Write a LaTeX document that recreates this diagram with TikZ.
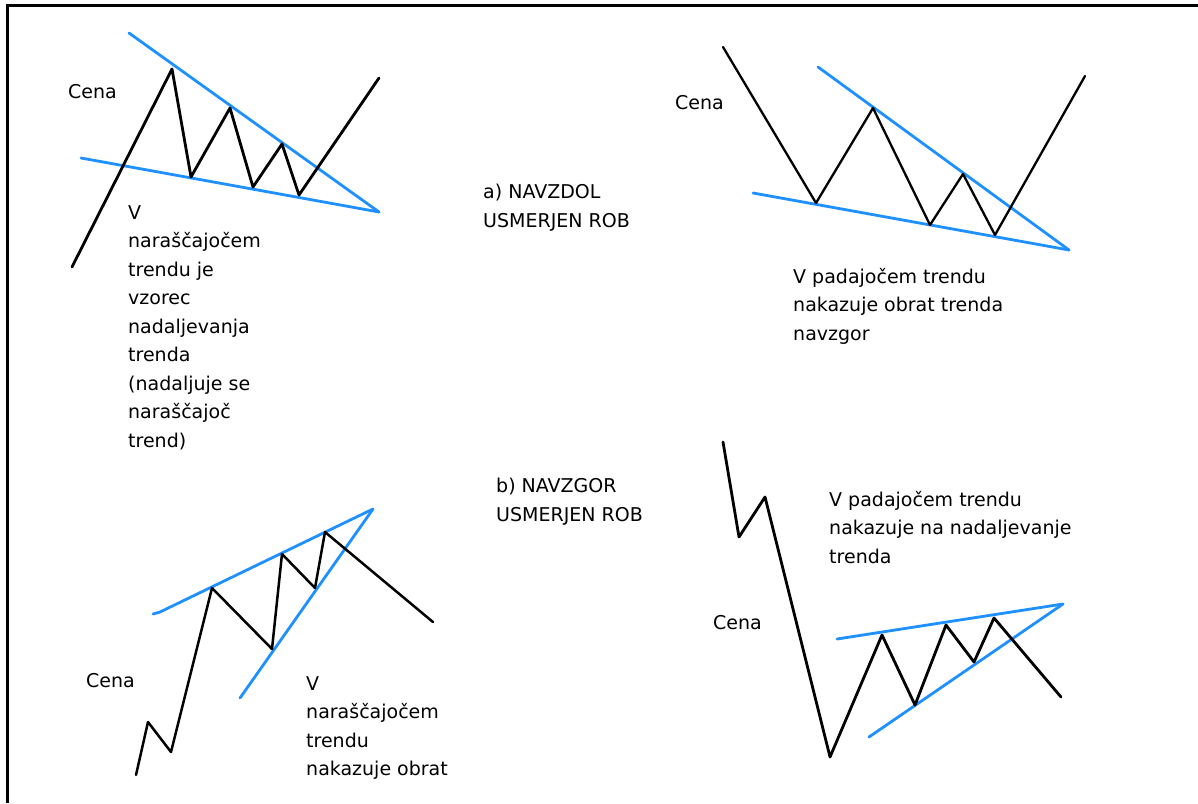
\documentclass[tikz,border=0pt]{standalone}
\usepackage{fontspec}
\setmainfont{DejaVu Sans}
\definecolor{modra}{RGB}{30,144,255}
\begin{document}
\begin{tikzpicture}[x=1pt, y=-1pt,
        tecaj/.style={line width=2.8pt, line join=round, line cap=round},
        meja/.style={modra, line width=2.8pt, line cap=round},
        opis/.style={font=\fontsize{19}{28.5}\selectfont, align=left, anchor=north west, inner sep=0pt, text=black},
        cena/.style={font=\fontsize{19}{28.5}\selectfont, anchor=west, inner sep=0pt, text=black}
    ]
        \useasboundingbox (0,0) rectangle (1198,803);
        % Okvir (zgoraj in levo)
        \draw[line width=3pt] (1198,5) -- (7,5) -- (7,803);

        % Vrhovi trikotnikov
        \coordinate (V1) at (379,212);
        \coordinate (V2) at (1069,250);
        \coordinate (V3) at (373,509);
        \coordinate (V4) at (1063,604);

        % Levo zgoraj - narascajoci trend
        \draw[meja] (129,33) -- (V1);
        \draw[meja] (81,158) -- (V1);
        \draw[tecaj] (72,267) -- (172,69) -- (191,177) -- (230,108) -- (253,187)
            -- (282,144) -- (299,195) -- (379,78);
        \node[cena] (C1) at (68,92) {Cena};
        \node[opis] (T1) at (128,205) {V\\naraščajočem\\trendu je\\vzorec\\nadaljevanja\\trenda\\(nadaljuje se\\naraščajoč\\trend)};

        % Desno zgoraj - padajoci trend
        \draw[meja] (818,67) -- (V2);
        \draw[meja] (753,193) -- (V2);
        \draw[tecaj, line width=2.3pt] (723,47) -- (816,203) -- (873,108) -- (930,225)
            -- (963,174) -- (995,235) -- (1085,76);
        \node[cena] (C2) at (675,103) {Cena};
        \node[opis] (T2) at (793,268) {V padajočem trendu\\nakazuje obrat trenda\\navzgor};

        % Naslova
        \node[opis] (A) at (483,184) {a) NAVZDOL\\USMERJEN ROB};
        \node[opis] (B) at (496,478) {b) NAVZGOR\\USMERJEN ROB};

        % Levo spodaj - narascajoci trend, obrat
        \draw[meja] (153,614) -- (160,612) -- (V3);
        \draw[meja] (240,698) -- (V3);
        \draw[tecaj, line width=2.5pt] (136,775) -- (148,722) -- (171,752) -- (212,588) -- (272,649)
            -- (282,554) -- (315,588) -- (325,532) -- (433,622);
        \node[cena] (C3) at (86,681) {Cena};
        \node[opis] (T3) at (306,676) {V\\naraščajočem\\trendu\\nakazuje obrat};

        % Desno spodaj - padajoci trend, nadaljevanje
        \draw[meja] (837,639) -- (V4);
        \draw[meja] (869,737) -- (V4);
        \draw[tecaj] (723,442) -- (739,537) -- (765,497) -- (830,757) -- (882,635)
            -- (915,705) -- (946,625) -- (974,662) -- (994,618) -- (1061,697);
        \node[cena] (C4) at (713,623) {Cena};
        \node[opis] (T4) at (829,491) {V padajočem trendu\\nakazuje na nadaljevanje\\trenda};
    \end{tikzpicture}
\end{document}
